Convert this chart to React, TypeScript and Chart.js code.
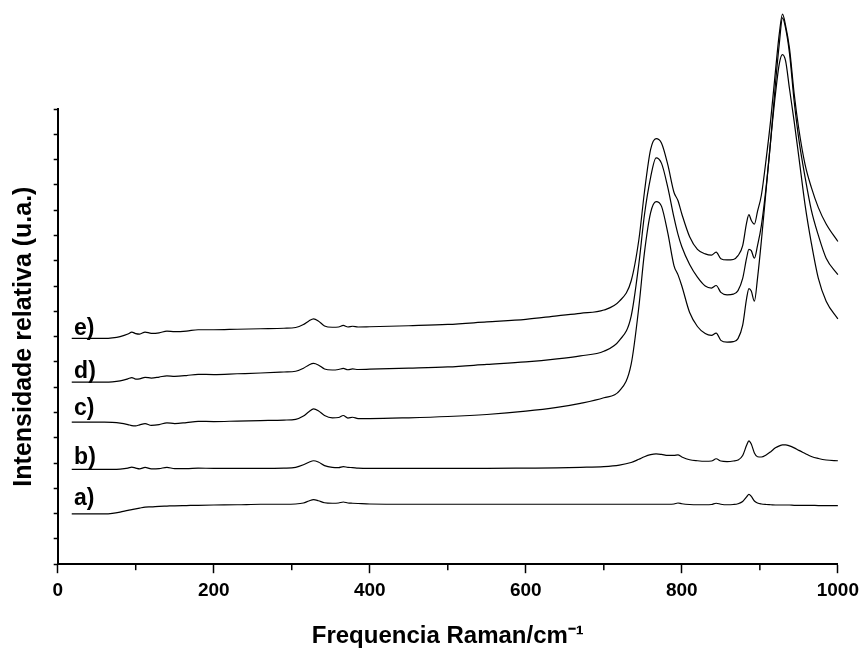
import React, { useEffect, useRef } from 'react';
import { Chart, registerables } from 'chart.js';

Chart.register(...registerables);

const FONT = '"Liberation Sans", Arial, Helvetica, sans-serif';

// Raman shift (cm-1) sampling positions shared by all spectra
const wavenumbers = [
  18, 40, 60, 70, 80, 90, 95, 100, 105, 112, 120, 130, 140, 150, 165, 180, 200, 230, 260, 290,
  305, 315, 322, 328, 334, 342, 352, 360, 366, 372, 378, 385, 400, 450, 500, 550, 600, 640, 670, 700,
  720, 735, 745, 752, 760, 767, 774, 782, 790, 795, 800, 810, 820, 830, 838, 844, 850, 858, 866, 872,
  878, 883, 886, 889, 893, 897, 902, 908, 914, 920, 925, 929, 933, 938, 944, 950, 958, 966, 975, 985, 1000,
];

const spectrumA = [
  1.99, 1.99, 1.99, 2.01, 2.06, 2.13, 2.16, 2.19, 2.22, 2.26, 2.27, 2.29, 2.30, 2.31, 2.32,
  2.33, 2.34, 2.35, 2.37, 2.37, 2.38, 2.42, 2.50, 2.55, 2.51, 2.43, 2.41, 2.42, 2.46, 2.42,
  2.41, 2.40, 2.38, 2.37, 2.37, 2.37, 2.37, 2.37, 2.37, 2.37, 2.37, 2.37, 2.37, 2.37, 2.37,
  2.37, 2.37, 2.37, 2.38, 2.42, 2.39, 2.36, 2.35, 2.35, 2.36, 2.41, 2.37, 2.35, 2.36, 2.39,
  2.48, 2.66, 2.76, 2.68, 2.50, 2.42, 2.38, 2.36, 2.35, 2.34, 2.34, 2.34, 2.34, 2.34, 2.33,
  2.33, 2.33, 2.33, 2.32, 2.32, 2.32,
];

const spectrumB = [
  3.75, 3.75, 3.75, 3.75, 3.76, 3.80, 3.84, 3.80, 3.77, 3.83, 3.77, 3.78, 3.83, 3.78, 3.78,
  3.80, 3.79, 3.79, 3.79, 3.80, 3.83, 3.93, 4.03, 4.09, 4.04, 3.90, 3.83, 3.82, 3.86, 3.83,
  3.82, 3.80, 3.79, 3.79, 3.79, 3.79, 3.80, 3.81, 3.83, 3.86, 3.92, 4.02, 4.15, 4.25, 4.33,
  4.36, 4.34, 4.30, 4.30, 4.32, 4.24, 4.13, 4.09, 4.07, 4.08, 4.17, 4.08, 4.06, 4.08, 4.12,
  4.30, 4.70, 4.88, 4.75, 4.40, 4.25, 4.24, 4.32, 4.45, 4.60, 4.68, 4.72, 4.72, 4.68, 4.60,
  4.50, 4.38, 4.26, 4.18, 4.12, 4.09,
];

const spectrumC = [
  5.62, 5.62, 5.62, 5.61, 5.58, 5.52, 5.48, 5.47, 5.51, 5.56, 5.49, 5.52, 5.59, 5.56, 5.60,
  5.65, 5.64, 5.66, 5.68, 5.70, 5.73, 5.86, 6.03, 6.14, 6.07, 5.88, 5.79, 5.80, 5.88, 5.78,
  5.81, 5.76, 5.76, 5.79, 5.84, 5.92, 6.05, 6.20, 6.36, 6.58, 6.85, 7.90, 10.2, 12.3, 13.9,
  14.34, 14.15, 13.1, 11.8, 11.45, 11.0, 9.95, 9.40, 9.12, 9.05, 9.14, 8.85, 8.78, 8.80, 8.92,
  9.45, 10.5, 10.9, 10.8, 10.4, 11.3, 12.8, 14.8, 16.8, 18.6, 19.8, 20.15, 19.9, 18.8, 17.5,
  16.1, 14.2, 12.7, 11.3, 10.4, 9.70,
];

const spectrumD = [
  7.20, 7.20, 7.20, 7.21, 7.25, 7.33, 7.38, 7.32, 7.33, 7.39, 7.36, 7.40, 7.45, 7.43, 7.46,
  7.51, 7.50, 7.53, 7.56, 7.60, 7.63, 7.75, 7.88, 7.94, 7.88, 7.72, 7.68, 7.70, 7.74, 7.69,
  7.72, 7.70, 7.71, 7.75, 7.80, 7.90, 8.00, 8.12, 8.24, 8.42, 8.85, 9.80, 11.9, 13.8, 15.3,
  16.07, 15.85, 14.9, 13.7, 13.05, 12.55, 11.85, 11.35, 11.0, 10.92, 11.02, 10.75, 10.65, 10.68, 10.82,
  11.3, 12.1, 12.45, 12.4, 12.1, 12.6, 13.4, 14.9, 16.8, 19.0, 20.6, 21.6, 21.2, 20.2, 18.3,
  16.8, 15.3, 14.0, 13.0, 12.1, 11.45,
];

const spectrumE = [
  8.93, 8.93, 8.93, 8.95, 9.00, 9.10, 9.18, 9.12, 9.10, 9.18, 9.13, 9.15, 9.22, 9.20, 9.22,
  9.27, 9.27, 9.29, 9.31, 9.33, 9.36, 9.48, 9.62, 9.70, 9.62, 9.42, 9.37, 9.38, 9.44, 9.38,
  9.41, 9.38, 9.39, 9.43, 9.48, 9.58, 9.68, 9.82, 9.92, 10.05, 10.4, 11.2, 12.85, 14.7, 16.4,
  16.83, 16.65, 15.8, 14.7, 14.38, 13.85, 12.95, 12.45, 12.27, 12.22, 12.34, 12.08, 12.03, 12.05, 12.2,
  12.6, 13.5, 13.82, 13.6, 13.45, 13.95, 14.6, 16.0, 17.6, 19.5, 21.0, 21.75, 21.3, 20.4, 18.6,
  17.2, 15.8, 14.9, 14.1, 13.45, 12.76,
];

const spectra = [spectrumA, spectrumB, spectrumC, spectrumD, spectrumE];

// curve labels and where they sit (data coordinates)
const curveLabels = ['a)', 'b)', 'c)', 'd)', 'e)'];
const curveLabelX = [21, 21, 21, 21, 21];
const curveLabelY = [2.58, 4.22, 6.17, 7.62, 9.33];

const xMinorTicks = [100, 300, 500, 700, 900];

const overlayPlugin = {
  id: 'overlay',
  afterDraw(chart: any) {
    const { ctx, scales } = chart;
    const x = scales.x;
    const y = scales.y;
    const bottom = chart.chartArea.bottom;
    ctx.save();
    ctx.strokeStyle = '#000';
    ctx.lineWidth = 1.5;
    xMinorTicks.forEach((v) => {
      const px = x.getPixelForValue(v);
      ctx.beginPath();
      ctx.moveTo(px, bottom);
      ctx.lineTo(px, bottom + 6);
      ctx.stroke();
    });
    ctx.fillStyle = '#000';
    ctx.font = `bold 23px ${FONT}`;
    ctx.textAlign = 'left';
    ctx.textBaseline = 'middle';
    curveLabels.forEach((t, i) => {
      ctx.fillText(t, x.getPixelForValue(curveLabelX[i]), y.getPixelForValue(curveLabelY[i]));
    });
    ctx.restore();
  },
};

export default function App() {
  const canvasRef = useRef<HTMLCanvasElement | null>(null);

  useEffect(() => {
    const canvas = canvasRef.current;
    if (!canvas) return;
    const chart = new Chart(canvas, {
      type: 'line',
      data: {
        datasets: spectra.map((s, i) => ({
          label: curveLabels[i],
          data: wavenumbers.map((w, j) => ({ x: w, y: s[j] })),
          borderColor: '#000',
          borderWidth: 1.2,
          pointRadius: 0,
          fill: false,
          cubicInterpolationMode: 'monotone' as const,
          clip: false as any,
        })),
      },
      options: {
        animation: false,
        responsive: true,
        maintainAspectRatio: false,
        layout: { padding: { top: 109, right: 26.7, left: 0, bottom: 0 } },
        plugins: {
          legend: { display: false },
          tooltip: { enabled: false },
        },
        scales: {
          x: {
            type: 'linear',
            min: 0,
            max: 1000,
            ticks: {
              stepSize: 200,
              color: '#000',
              padding: 6,
              maxRotation: 0,
              callback: (v: any) => String(v),
              font: { family: FONT, size: 19, weight: 'bold', lineHeight: 1.2 },
            },
            grid: {
              drawOnChartArea: false,
              drawTicks: true,
              tickLength: 9,
              tickWidth: 1.5,
              tickColor: '#000',
              color: '#000',
            },
            border: { display: true, color: '#000', width: 2 },
            title: {
              display: true,
              text: 'Frequencia Raman/cm\u207B\u00B9',
              color: '#000',
              font: { family: FONT, size: 24, weight: 'bold', lineHeight: 1 },
              padding: { top: 16, bottom: 0 },
            },
          },
          y: {
            type: 'linear',
            min: 0,
            max: 18,
            ticks: { display: false, stepSize: 1, maxTicksLimit: 100 },
            grid: {
              drawOnChartArea: false,
              drawTicks: true,
              tickLength: 4,
              tickWidth: 1.5,
              tickColor: '#000',
              color: '#000',
            },
            border: { display: true, color: '#000', width: 2 },
            title: {
              display: true,
              text: 'Intensidade relativa (u.a.)',
              color: '#000',
              font: { family: FONT, size: 25, weight: 'bold', lineHeight: 1 },
              padding: { top: 11.5, bottom: 17.2 },
            },
          },
        },
      },
      plugins: [overlayPlugin],
    });
    return () => chart.destroy();
  }, []);

  return (
    <div style={{ position: 'absolute', left: 0, top: 0, width: 865, height: 648, background: '#fff' }}>
      <canvas ref={canvasRef} />
    </div>
  );
}
